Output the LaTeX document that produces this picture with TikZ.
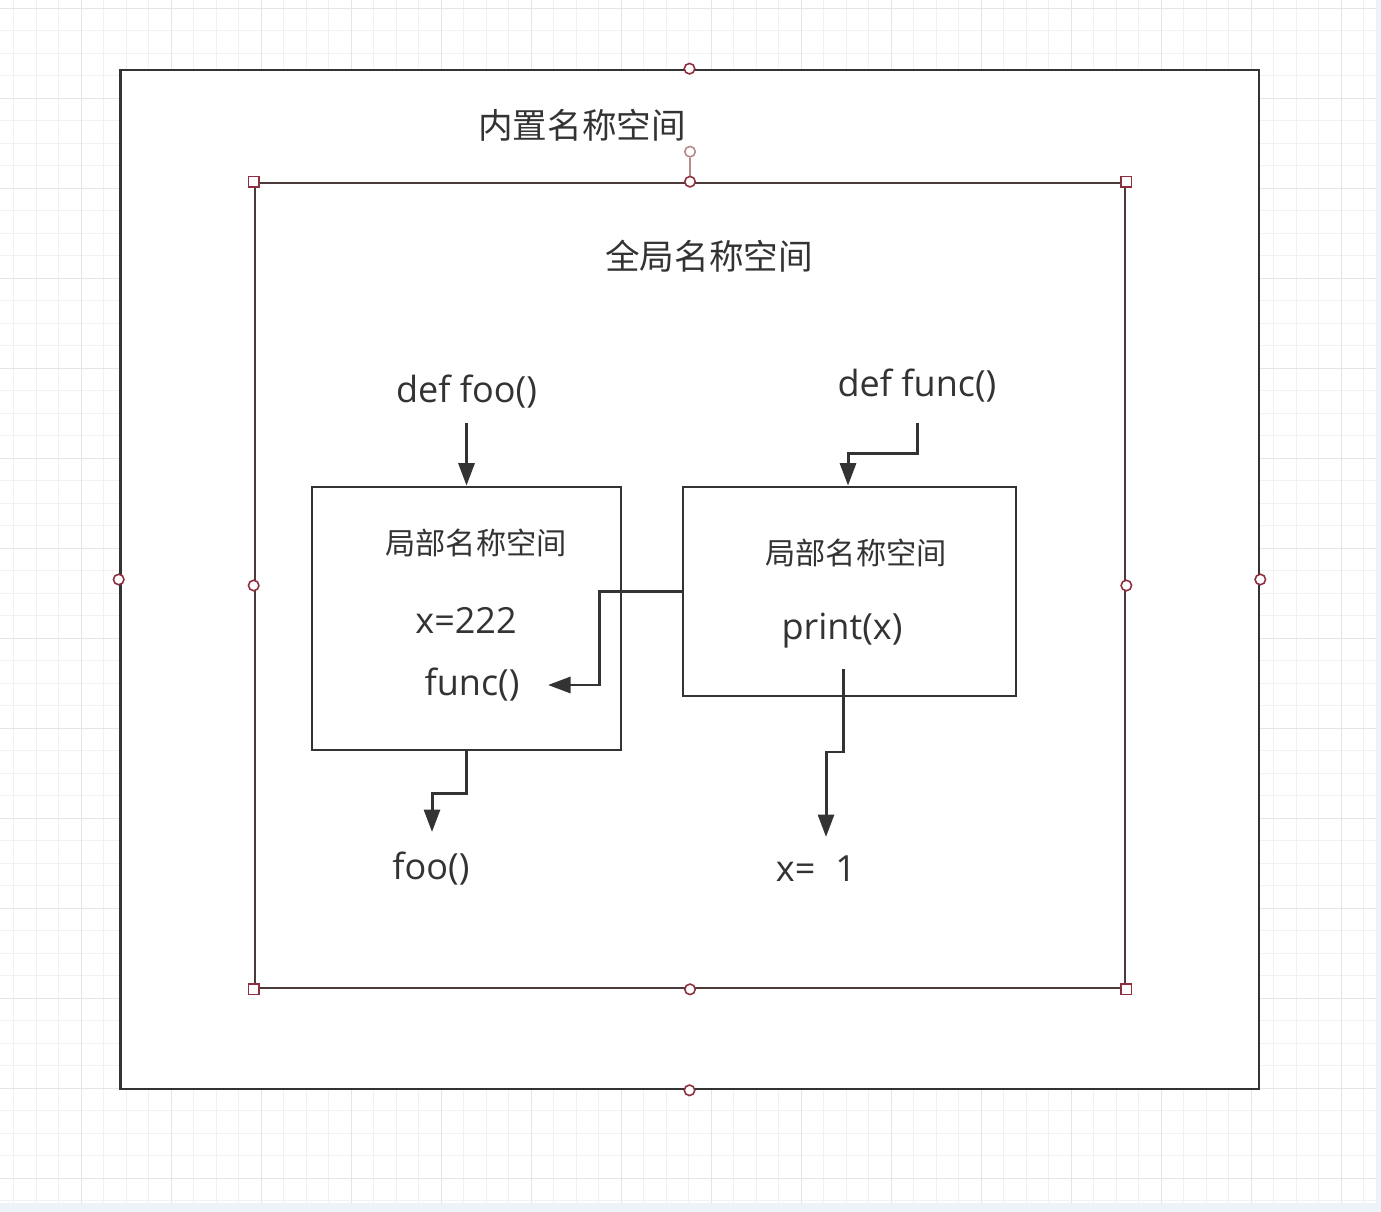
\documentclass[tikz,border=0pt]{standalone}
\usepackage{fontspec}
\setmainfont{Open Sans}
\newfontfamily\cjk{Noto Sans CJK SC}
\usetikzlibrary{arrows.meta,positioning,calc}
\definecolor{ink}{HTML}{333333}
\definecolor{selline}{HTML}{4D3A3A}
\definecolor{handle}{HTML}{8E2F3F}
\definecolor{rothandle}{HTML}{B48A8A}
\definecolor{gridminor}{HTML}{F1F1F1}
\definecolor{gridmajor}{HTML}{E5E5E5}
\definecolor{pagebg}{HTML}{EEF2F9}

\begin{document}
\begin{tikzpicture}[
    x=0.02cm, y=-0.02cm,
    font=\fontsize{20.5}{24}\selectfont, text=ink,
    title/.style={font=\cjk\fontsize{19.7}{24}\selectfont},
    subtitle/.style={font=\cjk\fontsize{17.2}{21}\selectfont},
    nsbox/.style={rectangle, draw=ink, line width=1.6pt, fill=white, inner sep=0pt},
    arr/.style={-{Triangle[length=4.5mm, width=3.2mm]}, line width=1.7pt, draw=ink},
    sqhandle/.style={rectangle, draw=handle, fill=white, line width=0.8pt,
      minimum size=2.1mm, inner sep=0pt},
    cchandle/.style={circle, draw=handle, fill=white, line width=0.9pt,
      minimum size=2.1mm, inner sep=0pt}
  ]
    \useasboundingbox (0,0) rectangle (1381,1212);
    \fill[pagebg] (0,0) rectangle (1381,1212);
    \fill[white] (0,0) rectangle (1376,1203);
    \foreach \gx in {13.5,36,...,1376}
      \draw[gridminor, line width=0.5pt] (\gx,0) -- (\gx,1203);
    \foreach \gy in {8,30.5,...,1203}
      \draw[gridminor, line width=0.5pt] (0,\gy) -- (1376,\gy);
    \foreach \gx in {81,171,...,1376}
      \draw[gridmajor, line width=0.5pt] (\gx,0) -- (\gx,1203);
    \foreach \gy in {8,98,...,1203}
      \draw[gridmajor, line width=0.5pt] (0,\gy) -- (1376,\gy);

    \node[nsbox, minimum width=22.78cm, minimum height=20.38cm] (builtin) at (689.5,579.5) {};
    \node[nsbox, draw=selline, minimum width=17.4cm, minimum height=16.1cm] (global) at (690,585.5) {};
    \node[title] (builtint) at (582,125) {内置名称空间};
    \node[title] (globalt) at (709,256) {全局名称空间};

    \node[nsbox, minimum width=6.18cm, minimum height=5.26cm] (foons) at (466.5,618.5) {};
    \node[nsbox, minimum width=6.66cm, minimum height=4.18cm] (funcns) at (849.5,591.5) {};
    \node[subtitle] (foot) at (476,543) {局部名称空间};
    \node (xloc) at (466,620) {x=222};
    \node (callfunc) at (472,685) {func()};
    \node[subtitle] (funct) at (856,553) {局部名称空间};
    \node (printx) at (842,631) {print(x)};

    \node (deffoo) at (466.5,392) {def foo()};
    \node (deffunc) at (917,386) {def func()};
    \node (callfoo) at (431,869) {foo()};
    \node (xval) at (816,869) {x=\hspace{0.4cm}1};

    \draw[arr] (deffoo) ++(0,31) -- (foons.north);
    \draw[arr] (deffunc) ++(0,37) |- ($(funcns.north)+(-1.5,-32)$) -- ($(funcns.north)+(-1.5,0)$);
    \draw[arr] (funcns.west) -| ($(callfunc)+(127,0)$) -- ($(callfunc)+(76,0)$);
    \draw[arr] (foons.south) -- ++(0,42) -| ($(callfoo)+(1,-37)$);
    \draw[arr] ($(printx)+(1,38)$) -- ++(0,83) -| ($(xval)+(10,-32)$);

    \node[cchandle, draw=rothandle] (rot) at ($(global.north)+(0,-30)$) {};
    \draw[rothandle, line width=0.9pt] (rot) -- (global.north);
    \foreach \a/\n in {north west/nw, north east/ne, south west/sw, south east/se}
      \node[sqhandle] (gs\n) at (global.\a) {};
    \foreach \a/\n in {north/n, south/s, west/w, east/e} {
      \node[cchandle] (gc\n) at (global.\a) {};
      \node[cchandle] (bc\n) at (builtin.\a) {};
    }
  \end{tikzpicture}
\end{document}
